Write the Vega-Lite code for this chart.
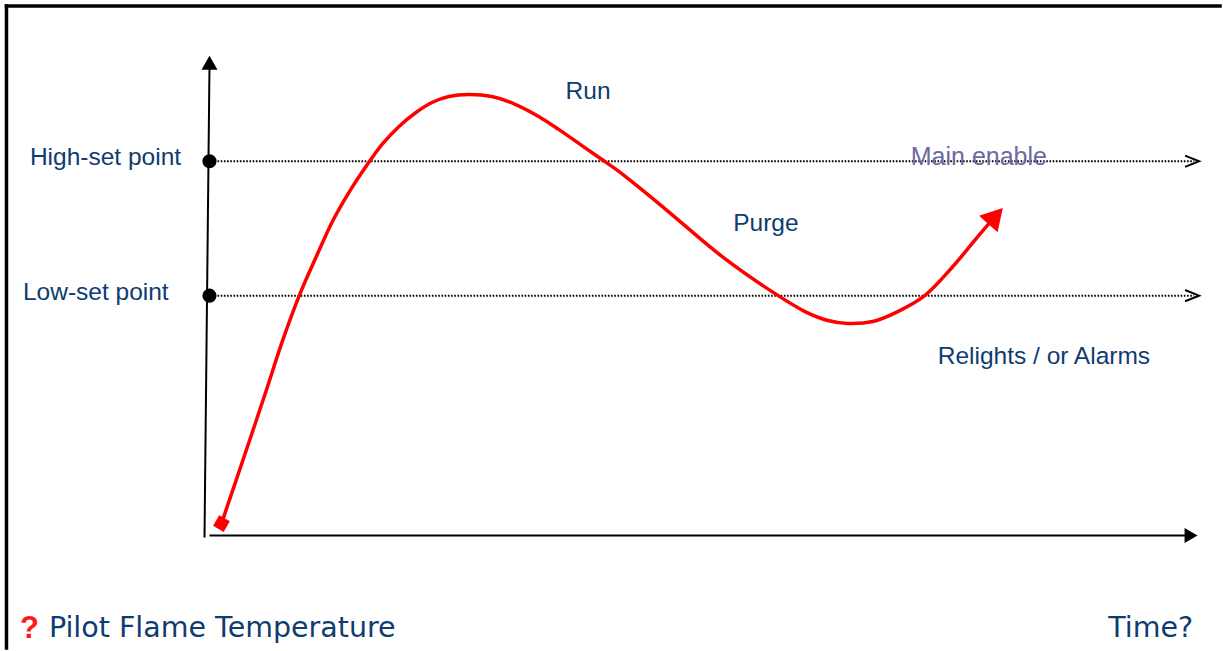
{
  "$schema": "https://vega.github.io/schema/vega-lite/v6.json",
  "width": 1223,
  "height": 651,
  "autosize": {"type": "fit", "contains": "padding"},
  "padding": 0,
  "background": "white",
  "config": {"view": {"stroke": null}},
  "datasets": {
    "frame": [
      {"x": 6.5, "y": 6, "x2": 1223, "y2": 6},
      {"x": 6.5, "y": 6, "x2": 6.5, "y2": 651}
    ],
    "axes": [
      {"x": 205, "y": 540, "x2": 210, "y2": 66},
      {"x": 210, "y": 538, "x2": 1190, "y2": 538}
    ],
    "levels": [
      {"level": "High-set point", "x": 218, "y": 162, "x2": 1197, "y2": 162},
      {"level": "Low-set point", "x": 218, "y": 297, "x2": 1197, "y2": 297}
    ],
    "setpoints": [
      {"level": "High-set point", "x": 210, "y": 162},
      {"level": "Low-set point", "x": 210, "y": 297}
    ],
    "curve": [
      {"x": 222, "y": 526}, {"x": 250, "y": 443}, {"x": 267, "y": 392},
      {"x": 283, "y": 343}, {"x": 300, "y": 297}, {"x": 317, "y": 258}, {"x": 333, "y": 223},
      {"x": 350, "y": 193}, {"x": 367, "y": 167}, {"x": 383, "y": 145}, {"x": 400, "y": 127},
      {"x": 417, "y": 113}, {"x": 433, "y": 103}, {"x": 450, "y": 97}, {"x": 470, "y": 95},
      {"x": 493, "y": 97}, {"x": 517, "y": 105}, {"x": 540, "y": 117}, {"x": 560, "y": 130},
      {"x": 583, "y": 146}, {"x": 603, "y": 160}, {"x": 620, "y": 172}, {"x": 667, "y": 210},
      {"x": 723, "y": 257}, {"x": 777, "y": 295}, {"x": 807, "y": 313}, {"x": 830, "y": 322},
      {"x": 850, "y": 325}, {"x": 875, "y": 323}, {"x": 900, "y": 313}, {"x": 927, "y": 297},
      {"x": 955, "y": 268}, {"x": 980, "y": 238}, {"x": 992, "y": 224}
    ],
    "curveStart": [{"x": 222, "y": 526}],
    "curveEnd": [{"x": 998, "y": 217}],
    "yArrow": [{"x": 210, "y": 63}],
    "xArrow": [{"x": 1194, "y": 538}],
    "chevrons": [{"x": 1195, "y": 162}, {"x": 1195, "y": 297}],
    "labels": [
      {"label": "High-set point", "x": 30, "y": 166},
      {"label": "Low-set point", "x": 23, "y": 301},
      {"label": "Run", "x": 567, "y": 99},
      {"label": "Purge", "x": 735, "y": 232},
      {"label": "Relights / or Alarms", "x": 940, "y": 366}
    ],
    "mainEnable": [{"label": "Main enable", "x": 913, "y": 166}],
    "question": [{"label": "?", "x": 20, "y": 641}],
    "bottomLeft": [{"label": "Pilot Flame Temperature", "x": 49, "y": 640}],
    "bottomRight": [{"label": "Time?", "x": 1196, "y": 640}]
  },
  "encoding": {
    "x": {"field": "x", "type": "quantitative", "scale": {"domain": [0, 1223], "nice": false, "zero": false}, "axis": null},
    "y": {"field": "y", "type": "quantitative", "scale": {"domain": [0, 651], "nice": false, "zero": false, "reverse": true}, "axis": null}
  },
  "layer": [
    {
      "data": {"name": "frame"},
      "mark": {"type": "rule", "color": "black", "strokeWidth": 3.5, "strokeCap": "square"},
      "encoding": {"x2": {"field": "x2"}, "y2": {"field": "y2"}}
    },
    {
      "data": {"name": "axes"},
      "mark": {"type": "rule", "color": "black", "strokeWidth": 2},
      "encoding": {"x2": {"field": "x2"}, "y2": {"field": "y2"}}
    },
    {
      "data": {"name": "levels"},
      "mark": {"type": "rule", "color": "black", "strokeWidth": 2, "strokeDash": [1.6, 1.6]},
      "encoding": {"x2": {"field": "x2"}, "y2": {"field": "y2"}}
    },
    {
      "data": {"name": "chevrons"},
      "mark": {"type": "point", "shape": "M-1,-0.8L1,0L-1,0.8", "filled": false, "stroke": "black", "strokeWidth": 2, "size": 196, "opacity": 1}
    },
    {
      "data": {"name": "setpoints"},
      "mark": {"type": "point", "shape": "circle", "filled": true, "color": "black", "size": 200, "opacity": 1}
    },
    {
      "data": {"name": "yArrow"},
      "mark": {"type": "point", "shape": "triangle-up", "filled": true, "color": "black", "size": 256, "opacity": 1}
    },
    {
      "data": {"name": "xArrow"},
      "mark": {"type": "point", "shape": "triangle-right", "filled": true, "color": "black", "size": 225, "opacity": 1}
    },
    {
      "data": {"name": "curve"},
      "mark": {"type": "line", "color": "#ff0000", "strokeWidth": 3.5, "interpolate": "catmull-rom"}
    },
    {
      "data": {"name": "curveStart"},
      "mark": {"type": "point", "shape": "square", "angle": 30, "filled": true, "color": "#ff0000", "size": 150, "opacity": 1}
    },
    {
      "data": {"name": "curveEnd"},
      "mark": {"type": "point", "shape": "triangle-up", "angle": 42, "filled": true, "color": "#ff0000", "size": 620, "opacity": 1}
    },
    {
      "data": {"name": "labels"},
      "mark": {"type": "text", "align": "left", "baseline": "alphabetic", "font": "Liberation Sans", "fontSize": 24.5, "color": "#0e3c70"},
      "encoding": {"text": {"field": "label"}}
    },
    {
      "data": {"name": "mainEnable"},
      "mark": {"type": "text", "align": "left", "baseline": "alphabetic", "font": "Liberation Sans", "fontSize": 25, "color": "#6a6aa2"},
      "encoding": {"text": {"field": "label"}}
    },
    {
      "data": {"name": "question"},
      "mark": {"type": "text", "align": "left", "baseline": "alphabetic", "font": "Liberation Sans", "fontWeight": "bold", "fontSize": 31, "color": "#ff1a1a"},
      "encoding": {"text": {"field": "label"}}
    },
    {
      "data": {"name": "bottomLeft"},
      "mark": {"type": "text", "align": "left", "baseline": "alphabetic", "font": "DejaVu Sans", "fontSize": 28.5, "color": "#0e3c70"},
      "encoding": {"text": {"field": "label"}}
    },
    {
      "data": {"name": "bottomRight"},
      "mark": {"type": "text", "align": "right", "baseline": "alphabetic", "font": "DejaVu Sans", "fontSize": 28.5, "color": "#0e3c70"},
      "encoding": {"text": {"field": "label"}}
    }
  ]
}
